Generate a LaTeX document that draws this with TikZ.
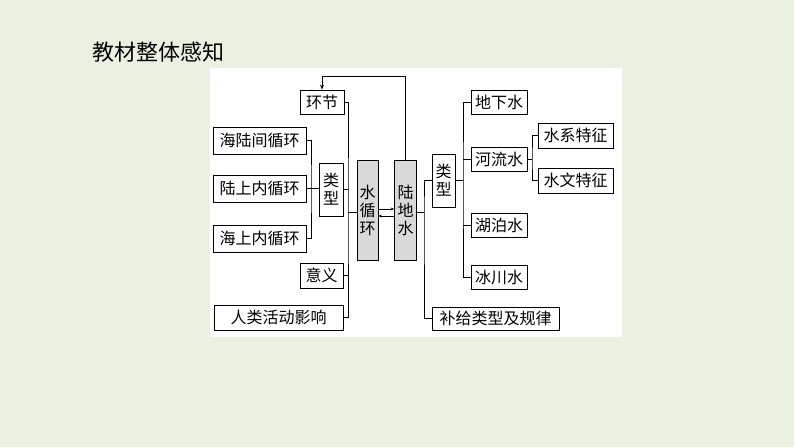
\documentclass[tikz,border=0pt]{standalone}
\usepackage{fontspec}
\newfontfamily\cjk{Noto Sans CJK SC}
\usetikzlibrary{arrows.meta}
\definecolor{bgc}{HTML}{EBF1E0}
\definecolor{graybox}{HTML}{D9D9D9}
\tikzset{
  box/.style={draw, line width=0.8pt, inner sep=0pt, anchor=center, font=\cjk\fontsize{16}{16}\selectfont},
  vbox/.style={box, align=center, font=\cjk\fontsize{16}{18}\selectfont},
  gbox/.style={vbox, fill=graybox},
  ln/.style={line width=0.8pt},
  tip/.style={-{Stealth[length=5pt,width=4pt]}},
  stip/.style={line width=0.6pt, -{Stealth[length=3.5pt,width=3pt]}}
}
\begin{document}
\begin{tikzpicture}[x=1pt,y=-1pt]
\useasboundingbox (0,0) rectangle (794,447);
\fill[bgc] (0,0) rectangle (794,447);
\fill[white] (210,68) rectangle (622,337);
\node[font=\cjk\fontsize{22}{22}\selectfont] (title) at (158.5,52.5) {教材整体感知};

% left part
\node[box, minimum width=44pt, minimum height=24pt] (hj) at (322,102) {环节};
\node[box, minimum width=93pt, minimum height=27pt] (hlj) at (259.5,140.5) {海陆间循环};
\node[box, minimum width=93pt, minimum height=27pt] (lsn) at (259.5,188.5) {陆上内循环};
\node[box, minimum width=93pt, minimum height=27pt] (hsn) at (259.5,238.5) {海上内循环};
\node[vbox, minimum width=24pt, minimum height=53pt] (lx) at (331,189.5) {类\\型};
\node[gbox, minimum width=21pt, minimum height=100pt] (sxh) at (367.5,210) {水\\循\\环};
\node[gbox, minimum width=22pt, minimum height=100pt] (ldw) at (405.5,210) {陆\\地\\水};
\node[box, minimum width=43pt, minimum height=25pt] (yy) at (321.5,275.5) {意义};
\node[box, minimum width=129pt, minimum height=25pt] (rl) at (278.5,317.5) {人类活动影响};

% right part
\node[vbox, minimum width=23pt, minimum height=53pt] (rlx) at (443.5,180.5) {类\\型};
\node[box, minimum width=56pt, minimum height=24pt] (dxs) at (499,102) {地下水};
\node[box, minimum width=56pt, minimum height=24pt] (hls) at (499,159) {河流水};
\node[box, minimum width=56pt, minimum height=24pt] (hps) at (499,225) {湖泊水};
\node[box, minimum width=56pt, minimum height=24pt] (bcs) at (499,277.5) {冰川水};
\node[box, minimum width=75pt, minimum height=25pt] (sx) at (575.5,135.5) {水系特征};
\node[box, minimum width=75pt, minimum height=25pt] (sw) at (575.5,180.5) {水文特征};
\node[box, minimum width=127pt, minimum height=23pt] (bj) at (495.5,318.5) {补给类型及规律};

% connectors left
\coordinate (b1) at (311,188.5);
\draw[ln] (hlj.east) -| (b1) |- (hsn.east);
\draw[ln] (lsn.east) -- (lx.west |- lsn.east);
\coordinate (b2) at (348,212);
\draw[ln] (hj.east) -| (b2) |- (rl.east);
\draw[ln] (lx.east) -- (lx.east -| b2);
\draw[ln] (yy.east) -- (yy.east -| b2);
\draw[ln] (b2) -- (b2 -| sxh.west);

% arrows between
\draw[stip] ([yshift=1pt]sxh.east) -- ([yshift=1pt]ldw.west);
\draw[stip] ([yshift=-6pt]ldw.west) -- ([yshift=-6pt]sxh.east);

% top feedback arrow
\coordinate (t1) at (322,76);
\draw[ln, tip] (ldw.north) |- (t1) -- (hj.north);

% connectors right
\coordinate (b3) at (424,212);
\draw[ln] (rlx.west) -| (b3) |- (bj.west);
\draw[ln] (b3 -| ldw.east) -- (b3);
\coordinate (b4) at (463,180.5);
\draw[ln] (dxs.west) -| (b4) |- (bcs.west);
\draw[ln] (rlx.east) -- (b4);
\draw[ln] (hls.west) -- (hls.west -| b4);
\draw[ln] (hps.west) -- (hps.west -| b4);
\coordinate (b5) at (532,159);
\draw[ln] (sx.west) -| (b5) |- (sw.west);
\draw[ln] (hls.east) -- (b5);
\end{tikzpicture}
\end{document}
